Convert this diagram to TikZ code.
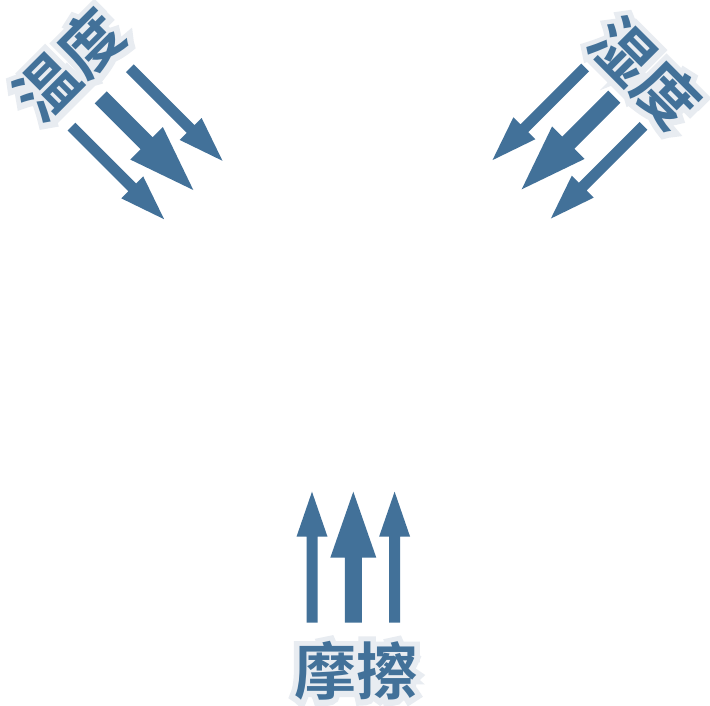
\documentclass[tikz,border=0pt]{standalone}
\usepackage{fontspec}
\newfontfamily\cjkfont{Noto Sans CJK SC Bold}
\newfontfamily\cjkhalofont[FakeBold=18]{Noto Sans CJK SC Bold}
\definecolor{arrowblue}{HTML}{427199}
\definecolor{halogray}{HTML}{E8ECF1}
\tikzset{
  labeltext/.style={font=\cjkfont\fontsize{62}{62}\selectfont, inner sep=0pt, text=arrowblue},
  arrowfill/.style={fill=arrowblue, draw=none}
}
% arrow shapes, tip at local origin pointing along +x
\newcommand\smallarrowshape{(0,0) -- (-45,15.5) -- (-45,5.5) -- (-131,5.5) -- (-131,-5.5) -- (-45,-5.5) -- (-45,-15.5) -- cycle}
\newcommand\bigarrowshape{(0,0) -- (-66,23) -- (-66,8.5) -- (-131,8.5) -- (-131,-8.5) -- (-66,-8.5) -- (-66,-23) -- cycle}
\newcommand\arrowgroup[3]{% name, tip position, angle
  \begin{scope}[shift={#2}, rotate=#3]
    \coordinate (#1) at (0,0);
    \fill[arrowfill] \bigarrowshape;
    \begin{scope}[shift={(0,41.3)}]
      \fill[arrowfill] \smallarrowshape;
    \end{scope}
    \begin{scope}[shift={(0,-41.3)}]
      \fill[arrowfill] \smallarrowshape;
    \end{scope}
  \end{scope}}
% label with a light halo drawn behind it, inside one node
\newcommand\halolabel[4]{% name, position, rotation, text
  \node[labeltext, rotate=#3] (#1) at #2
    {\makebox[0pt][l]{\cjkhalofont\color{halogray}#4}#4};}
\begin{document}
\begin{tikzpicture}[x=1pt, y=-1pt]
  \useasboundingbox[fill=white] (0,0) rectangle (710,705);
  % arrows
  \arrowgroup{tl}{(193.3,190)}{-45}
  \arrowgroup{tr}{(521.7,189.3)}{-135}
  \arrowgroup{bt}{(353.3,491.7)}{90}
  % labels
  \halolabel{wendu}{(69,65)}{45}{温度}
  \halolabel{shidu}{(645,73)}{-45}{湿度}
  \halolabel{mocha}{(356,671)}{0}{摩擦}
\end{tikzpicture}
\end{document}
